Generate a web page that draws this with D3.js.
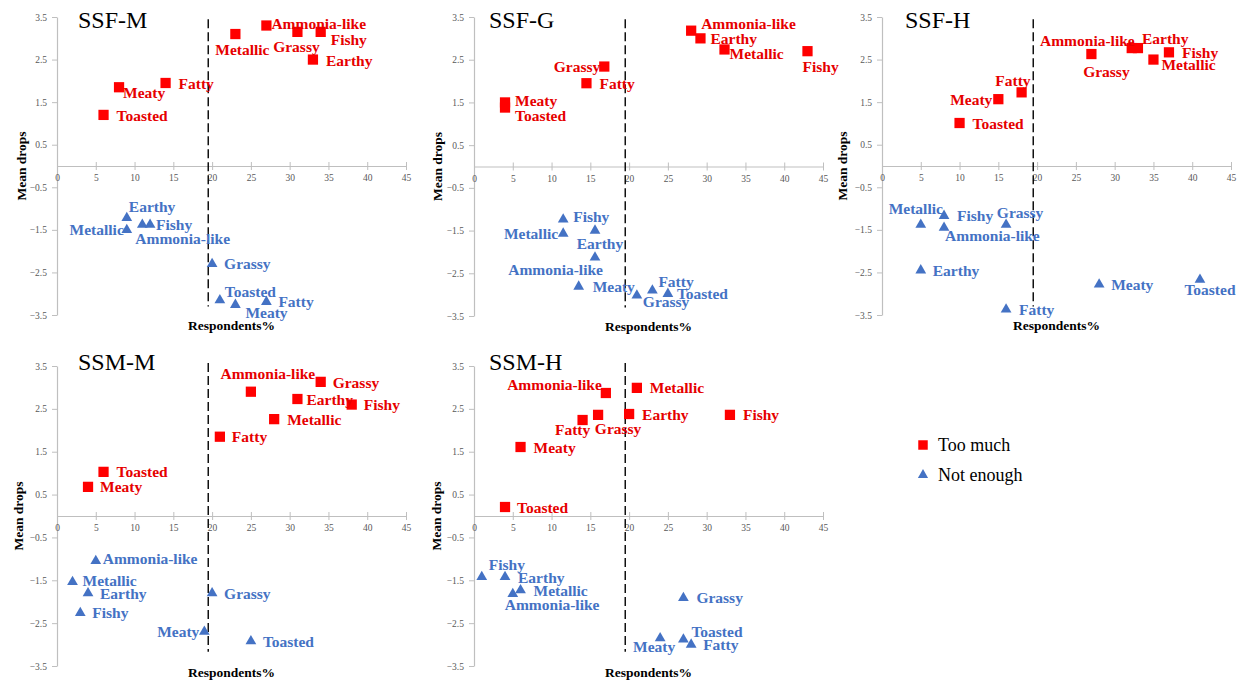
<!DOCTYPE html>
<html><head><meta charset="utf-8">
<script src="https://cdn.jsdelivr.net/npm/d3@7"></script>
<style>body{margin:0;background:#fff;} svg{display:block;}</style>
</head><body>
<svg id="chart" width="1241" height="682"></svg>
<script>
// ---------------- DATA ----------------
const attributes = ["Ammonia-like","Earthy","Fatty","Fishy","Grassy","Meaty","Metallic","Toasted"];
const panelTitles = ["SSF-M","SSF-G","SSF-H","SSM-M","SSM-H"];
const seriesNames = ["Too much","Not enough"];
const xTickValues = [0,5,10,15,20,25,30,35,40,45];
const yTickValues = [3.5,2.5,1.5,0.5,-0.5,-1.5,-2.5,-3.5];
const thresholdPct = 19.5;
const xAxisLabel = "Respondents%";
const yAxisLabel = "Mean drops";

// SSF-M
const ssfM_tooMuch_pct   = [27, 33, 14, 34, 31, 8, 23, 6];
const ssfM_tooMuch_drop  = [3.3, 2.5, 1.95, 3.15, 3.15, 1.85, 3.1, 1.2];
const ssfM_notEnough_pct = [11, 9, 27, 12, 20, 23, 9, 21];
const ssfM_notEnough_drop= [-1.38, -1.22, -3.19, -1.38, -2.3, -3.26, -1.5, -3.15];
// SSF-G
const ssfG_tooMuch_pct   = [28, 29.2, 14.5, 43, 16.8, 4, 32.3, 4];
const ssfG_tooMuch_drop  = [3.18, 3.0, 1.95, 2.7, 2.34, 1.5, 2.74, 1.38];
const ssfG_notEnough_pct = [15.6, 15.6, 23, 11.5, 21, 13.5, 11.5, 25];
const ssfG_notEnough_drop= [-2.13, -1.5, -2.9, -1.24, -3.02, -2.81, -1.57, -2.98];
// SSF-H
const ssfH_tooMuch_pct   = [32.2, 33, 18, 37, 27, 15, 35, 10];
const ssfH_tooMuch_drop  = [2.77, 2.77, 1.73, 2.67, 2.63, 1.57, 2.5, 1.01];
const ssfH_notEnough_pct = [8, 5, 16, 8, 16, 28, 5, 41];
const ssfH_notEnough_drop= [-1.45, -2.45, -3.37, -1.17, -1.38, -2.78, -1.38, -2.67];
// SSM-M
const ssmM_tooMuch_pct   = [25, 31, 21, 38, 34, 4, 28, 6];
const ssmM_tooMuch_drop  = [2.9, 2.73, 1.85, 2.6, 3.13, 0.68, 2.26, 1.03];
const ssmM_notEnough_pct = [5, 4, null, 3, 20, 19, 2, 25];
const ssmM_notEnough_drop= [-1.05, -1.8, null, -2.26, -1.8, -2.7, -1.54, -2.92];
// SSM-H
const ssmH_tooMuch_pct   = [17, 20, 14, 33, 16, 6, 21, 4];
const ssmH_tooMuch_drop  = [2.87, 2.38, 2.24, 2.36, 2.36, 1.61, 2.99, 0.21];
const ssmH_notEnough_pct = [5, 4, 28, 1, 27, 24, 6, 27];
const ssmH_notEnough_drop= [-1.82, -1.42, -3.0, -1.42, -1.91, -2.85, -1.73, -2.88];

const panelData = [
  [ssfM_tooMuch_pct, ssfM_tooMuch_drop, ssfM_notEnough_pct, ssfM_notEnough_drop],
  [ssfG_tooMuch_pct, ssfG_tooMuch_drop, ssfG_notEnough_pct, ssfG_notEnough_drop],
  [ssfH_tooMuch_pct, ssfH_tooMuch_drop, ssfH_notEnough_pct, ssfH_notEnough_drop],
  [ssmM_tooMuch_pct, ssmM_tooMuch_drop, ssmM_notEnough_pct, ssmM_notEnough_drop],
  [ssmH_tooMuch_pct, ssmH_tooMuch_drop, ssmH_notEnough_pct, ssmH_notEnough_drop]
];

// ---------------- LAYOUT ----------------
const frames = [
  {x0:57,  yTop:17,  yBot:315, dashTop:3.45, dashBot:-3.3, titleX:78,  titleY:28,  ylabX:21,  xlabY:330},
  {x0:474, yTop:17,  yBot:316, dashTop:3.45, dashBot:-3.3, titleX:489, titleY:28,  ylabX:437, xlabY:331},
  {x0:882, yTop:17,  yBot:315, dashTop:3.45, dashBot:-3.3, titleX:905, titleY:28,  ylabX:842, xlabY:330},
  {x0:57,  yTop:366, yBot:666, dashTop:3.57, dashBot:-3.17, titleX:78,  titleY:370, ylabX:18,  xlabY:677},
  {x0:474, yTop:366, yBot:666, dashTop:3.57, dashBot:-3.17, titleX:489, titleY:370, ylabX:436, xlabY:677}
];
const plotWidth = 349;
// label offsets [dx, dy, anchor] per attribute (s=start, e=end, m=middle)
const labelPlacement = [
  { too: [[5,-2,'s'],[13,1,'s'],[13,1,'s'],[10,8,'s'],[-1,15,'m'],[4,5,'s'],[7,15,'m'],[13,1,'s']],
    not: [[-7,14,'s'],[2,-11,'s'],[12,0,'s'],[6,0,'s'],[12,0,'s'],[10,8,'s'],[-3,0,'e'],[5,-9,'s']] },
  { too: [[10,-7,'s'],[10,0,'s'],[13,0,'s'],[-5,15,'s'],[-4,0,'e'],[10,-2,'s'],[5,4,'s'],[10,8,'s']],
    not: [[8,12,'e'],[5,13,'m'],[6,-9,'s'],[10,-3,'s'],[6,6,'s'],[14,0,'s'],[-5,0,'e'],[9,0,'s']] },
  { too: [[3,-8,'e'],[4,-10,'s'],[9,-12,'e'],[13,0,'s'],[15,17,'m'],[-6,0,'e'],[8,5,'s'],[13,0,'s']],
    not: [[1,8,'s'],[12,0,'s'],[13,0,'s'],[13,0,'s'],[14,-12,'m'],[12,0,'s'],[-5,-16,'m'],[10,10,'m']] },
  { too: [[17,-18,'m'],[9,0,'s'],[12,0,'s'],[12,0,'s'],[12,1,'s'],[12,0,'s'],[13,0,'s'],[13,0,'s']],
    not: [[7,-3,'s'],[12,0,'s'],null,[12,0,'s'],[12,0,'s'],[-5,0,'e'],[10,-2,'s'],[12,0,'s']] },
  { too: [[-4,-9,'e'],[13,0,'s'],[-10,9,'m'],[13,0,'s'],[20,14,'m'],[13,0,'s'],[13,0,'s'],[12,0,'s']],
    not: [[-8,10,'s'],[13,1,'s'],[12,0,'s'],[7,-12,'s'],[13,0,'s'],[-6,8,'m'],[13,0,'s'],[8,-8,'s']] }
];
const RED = "#FF0000", RED_TXT = "#E60000", BLUE = "#4472C4";
const serif = "'Liberation Serif','Times New Roman',serif";
const anchorMap = {s:"start", e:"end", m:"middle"};

const svg = d3.select("#chart");
const squareSym = d3.symbol().type(d3.symbolSquare).size(105);
const triSym = d3.symbol().type(d3.symbolTriangle).size(50);

frames.forEach((f, i) => {
  const g = svg.append("g");
  const x = d3.scaleLinear().domain([0,45]).range([f.x0, f.x0 + plotWidth]);
  const y = d3.scaleLinear().domain([-3.5,3.5]).range([f.yBot, f.yTop]);

  // y axis
  const ya = g.append("g").attr("transform", `translate(${f.x0},0)`)
    .call(d3.axisLeft(y).tickValues(yTickValues).tickSizeInner(5).tickSizeOuter(0).tickPadding(5).tickFormat(d3.format(".1f")));
  ya.select(".domain").attr("stroke", "#BFBFBF").attr("stroke-width", 1.2);
  ya.selectAll(".tick line").attr("stroke", "#BFBFBF");
  ya.selectAll(".tick text").attr("fill", "#595959").style("font-family", serif).style("font-size", "9.5px");

  // x axis
  const xa = g.append("g").attr("transform", `translate(0,${y(0)})`)
    .call(d3.axisBottom(x).tickValues(xTickValues).tickSizeInner(4).tickSizeOuter(0));
  xa.select(".domain").attr("stroke", "#BFBFBF").attr("stroke-width", 1.2);
  xa.selectAll(".tick line").attr("stroke", "#BFBFBF").attr("y1", -4).attr("y2", 4);
  xa.selectAll(".tick text").attr("fill", "#595959").attr("y", 12).attr("dy", "0.35em")
    .style("font-family", serif).style("font-size", "9.5px");

  // threshold dashed line
  g.append("line")
    .attr("x1", x(thresholdPct)).attr("x2", x(thresholdPct))
    .attr("y1", y(f.dashTop)).attr("y2", y(f.dashBot))
    .attr("stroke", "#000").attr("stroke-width", 1.4).attr("stroke-dasharray", "9,4");

  // title
  g.append("text").attr("x", f.titleX).attr("y", f.titleY).text(panelTitles[i])
    .style("font-family", serif).style("font-size", "24px").attr("fill", "#000");

  // axis titles
  g.append("text")
    .attr("transform", `translate(${f.ylabX},${y(0)}) rotate(-90)`)
    .attr("text-anchor", "middle").attr("dominant-baseline", "central")
    .text(yAxisLabel).style("font-family", serif).style("font-size", "13.5px").style("font-weight", "bold");
  g.append("text")
    .attr("x", f.x0 + plotWidth/2).attr("y", f.xlabY)
    .attr("text-anchor", "middle")
    .text(xAxisLabel).style("font-family", serif).style("font-size", "13.5px").style("font-weight", "bold");

  const [tx, ty, nx, ny] = panelData[i];
  const mk = (xs, ys, pl) => attributes.map((a, k) => ({name:a, x:xs[k], y:ys[k], pl:pl[k]})).filter(d => d.x != null);
  const too = mk(tx, ty, labelPlacement[i].too);
  const not = mk(nx, ny, labelPlacement[i].not);

  [[too, squareSym, RED, RED_TXT], [not, triSym, BLUE, BLUE]].forEach(([arr, sym, col, tcol]) => {
    g.selectAll(null).data(arr).enter().append("path")
      .attr("d", sym).attr("fill", col)
      .attr("transform", d => `translate(${x(d.x)},${y(d.y)})`);
    g.selectAll(null).data(arr).enter().append("text")
      .attr("x", d => x(d.x) + d.pl[0]).attr("y", d => y(d.y) + d.pl[1])
      .attr("text-anchor", d => anchorMap[d.pl[2]]).attr("dominant-baseline", "central")
      .attr("fill", tcol).style("font-family", serif).style("font-size", "15.5px").style("font-weight", "bold")
      .text(d => d.name);
  });
});

// legend
const legend = svg.append("g");
const legendItems = [{name: seriesNames[0], sym: d3.symbol().type(d3.symbolSquare).size(90), col: RED, y: 445},
                     {name: seriesNames[1], sym: d3.symbol().type(d3.symbolTriangle).size(45), col: BLUE, y: 475}];
legendItems.forEach(it => {
  legend.append("path").attr("d", it.sym).attr("fill", it.col).attr("transform", `translate(923,${it.y})`);
  legend.append("text").attr("x", 938).attr("y", it.y).attr("dominant-baseline", "central")
    .text(it.name).style("font-family", serif).style("font-size", "18px").attr("fill", "#000");
});
</script>
</body></html>
